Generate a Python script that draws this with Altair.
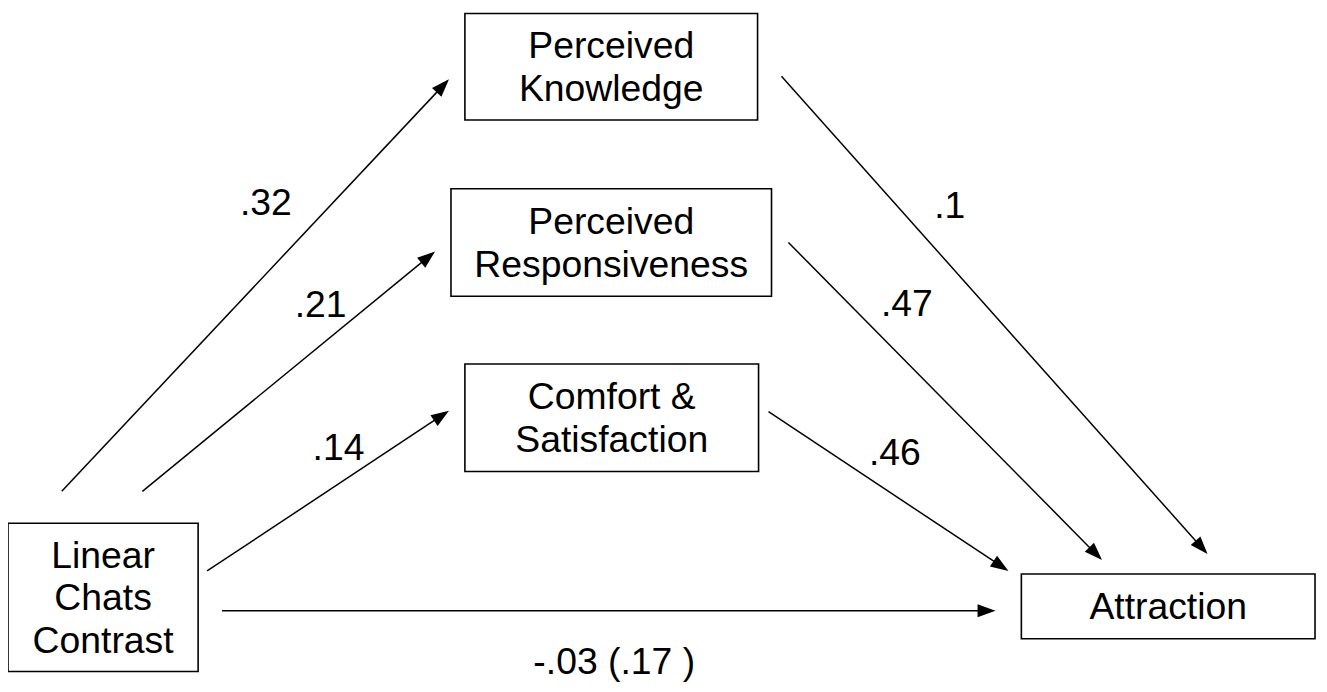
import altair as alt
import pandas as pd
import numpy as np

# ---- nodes (boxes) ----
node_labels = ["Linear\nChats\nContrast", "Perceived\nKnowledge", "Perceived\nResponsiveness",
               "Comfort &\nSatisfaction", "Attraction"]
node_left = [8, 467, 453, 467, 1026]
node_right = [199, 761, 775, 762, 1321]
node_top = [524, 12, 188, 364, 575]
node_bottom = [673, 119, 296, 472, 640]

# ---- paths (start -> arrow tip) ----
path_x0 = [62, 143, 208, 223, 785, 792, 772]
path_y0 = [492, 492, 572, 612, 75, 242, 412]
path_x1 = [451, 437, 451, 1000, 1213, 1107, 1013]
path_y1 = [78, 251, 411, 612, 555, 561, 572]

# ---- coefficient labels ----
coef_text = [".32", ".21", ".14", ".1", ".47", ".46", "-.03 (.17 )"]
coef_x = [267, 322, 340, 954, 911, 899, 617]
coef_y = [203, 306, 450, 206, 305, 455, 664]

FONT = "Liberation Sans"
FSIZE = 37.5
LINE_H = 43
HEAD_LEN = 18

nodes = pd.DataFrame({"label": node_labels, "left": node_left, "right": node_right,
                      "top": node_top, "bottom": node_bottom})
nodes["cx"] = (nodes["left"] + nodes["right"]) / 2
n_lines = nodes["label"].str.count("\n") + 1
nodes["ty"] = (nodes["top"] + nodes["bottom"]) / 2 - (n_lines - 1) / 2 * LINE_H + 2

edges = pd.DataFrame({"x0": path_x0, "y0": path_y0, "x1": path_x1, "y1": path_y1})
dx = edges["x1"] - edges["x0"]
dy = edges["y1"] - edges["y0"]
length = np.sqrt(dx ** 2 + dy ** 2)
edges["bx"] = edges["x1"] - dx / length * (HEAD_LEN - 3)
edges["by"] = edges["y1"] - dy / length * (HEAD_LEN - 3)
edges["angle"] = (np.degrees(np.arctan2(dx, -dy)) + 360) % 360

labels = pd.DataFrame({"text": coef_text, "x": coef_x, "y": coef_y})

xs = alt.Scale(domain=[8, 1319], nice=False, zero=False)
ys = alt.Scale(domain=[8, 684], nice=False, zero=False, reverse=True)

boxes = alt.Chart(nodes).mark_rect(fill="white", stroke="black", strokeWidth=1.6).encode(
    x=alt.X("left:Q", scale=xs, axis=None), x2="right:Q",
    y=alt.Y("top:Q", scale=ys, axis=None), y2="bottom:Q")

box_text = alt.Chart(nodes).mark_text(font=FONT, fontSize=FSIZE, lineBreak="\n", lineHeight=LINE_H,
                                      align="center", baseline="middle", color="black").encode(
    x=alt.X("cx:Q", scale=xs, axis=None), y=alt.Y("ty:Q", scale=ys, axis=None), text="label:N")

rules = alt.Chart(edges).mark_rule(color="black", strokeWidth=1.5).encode(
    x=alt.X("x0:Q", scale=xs, axis=None), x2="bx:Q",
    y=alt.Y("y0:Q", scale=ys, axis=None), y2="by:Q")

heads = alt.Chart(edges).mark_point(shape="M0,0L0.72,2L-0.72,2Z", filled=True, size=HEAD_LEN ** 2,
                                    color="black", opacity=1, strokeWidth=0).encode(
    x=alt.X("x1:Q", scale=xs, axis=None), y=alt.Y("y1:Q", scale=ys, axis=None),
    angle=alt.Angle("angle:Q", scale=None))

coef = alt.Chart(labels).mark_text(font=FONT, fontSize=FSIZE, align="center", baseline="middle",
                                   color="black").encode(
    x=alt.X("x:Q", scale=xs, axis=None), y=alt.Y("y:Q", scale=ys, axis=None), text="text:N")

chart = alt.layer(rules, heads, boxes, box_text, coef).properties(
    width=1311, height=676,
    autosize=alt.AutoSizeParams(type="none"),
    padding={"left": 0, "top": 0, "right": 6, "bottom": 6},
).configure(background="white").configure_view(strokeWidth=0, stroke="transparent")

chart.save("out.html", embed_options={"renderer": "svg", "actions": False})
